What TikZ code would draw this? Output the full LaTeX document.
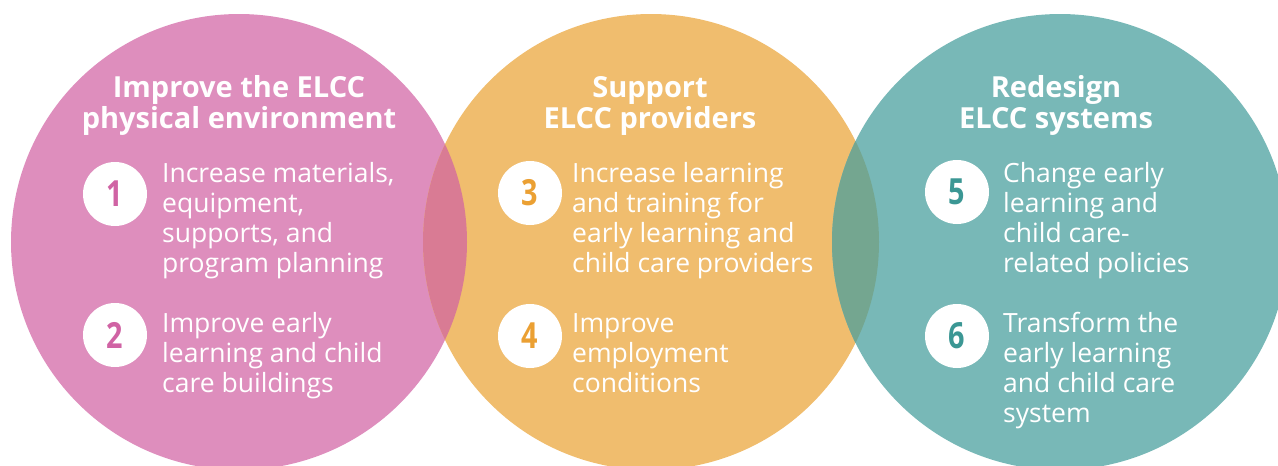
\documentclass[tikz,border=0pt]{standalone}
\usepackage{fontspec}
\usepackage{graphicx}
\setmainfont{Open Sans}
\definecolor{pinkC}{HTML}{DE8EBD}
\definecolor{orangeC}{HTML}{F0BD6E}
\definecolor{tealC}{HTML}{78B8B7}
\definecolor{poC}{HTML}{D97B94}
\definecolor{otC}{HTML}{74A690}
\definecolor{pinkD}{HTML}{D063A4}
\definecolor{orangeD}{HTML}{EBA033}
\definecolor{tealD}{HTML}{3B9794}
\newcommand{\digitx}[1]{\scalebox{0.8}[1]{#1}}
\tikzset{
  bigcircle/.style={circle, minimum size=456pt, inner sep=0pt},
  badge/.style={circle, fill=white, minimum size=64pt, inner sep=0pt,
    font=\bfseries\fontsize{36}{36}\selectfont},
  titletext/.style={anchor=base, align=center, text=white, inner sep=0pt,
    font=\bfseries\fontsize{29}{31}\selectfont},
  bodytext/.style={anchor=base west, align=left, text=white, inner sep=0pt,
    font=\fontsize{26.5}{30}\selectfont}
}
\begin{document}
\begin{tikzpicture}[x=1pt,y=-1pt]
\useasboundingbox (0,0) rectangle (1278,466);
\clip (0,0) rectangle (1278,466);
% circles
\node[bigcircle, fill=pinkC] (pink) at (239,242) {};
\node[bigcircle, fill=orangeC] (orange) at (651,242) {};
\node[bigcircle, fill=tealC] (teal) at (1060,242) {};
% overlaps
\begin{scope}
  \clip (pink.center) circle[radius=228pt];
  \fill[poC] (orange.center) circle[radius=228pt];
\end{scope}
\begin{scope}
  \clip (orange.center) circle[radius=228pt];
  \fill[otC] (teal.center) circle[radius=228pt];
\end{scope}
% titles (anchor = baseline of last line)
\node[titletext] (t1) at (239,128) {Improve the ELCC\\physical environment};
\node[titletext] (t2) at (650,128) {Support\\ELCC providers};
\node[titletext] (t3) at (1056,128) {Redesign\\ELCC systems};
% badges
\node[badge, text=pinkD] (b1) at (115,194) {\digitx{1}};
\node[badge, text=pinkD] (b2) at (115,335) {\digitx{2}};
\node[badge, text=orangeD] (b3) at (530,193) {\digitx{3}};
\node[badge, text=orangeD] (b4) at (530,336) {\digitx{4}};
\node[badge, text=tealD] (b5) at (957,192) {\digitx{5}};
\node[badge, text=tealD] (b6) at (957,336) {\digitx{6}};
% body texts (anchor = baseline of last line)
\node[bodytext] (x1) at (162,272) {Increase materials,\\equipment,\\supports, and\\program planning};
\node[bodytext] (x2) at (162,392) {Improve early\\learning and child\\care buildings};
\node[bodytext] (x3) at (572,272) {Increase learning\\and training for\\early learning and\\child care providers};
\node[bodytext] (x4) at (572,392) {Improve\\employment\\conditions};
\node[bodytext] (x5) at (1003,272) {Change early\\learning and\\child care-\\related policies};
\node[bodytext] (x6) at (1003,422) {Transform the\\early learning\\and child care\\system};
\end{tikzpicture}
\end{document}
